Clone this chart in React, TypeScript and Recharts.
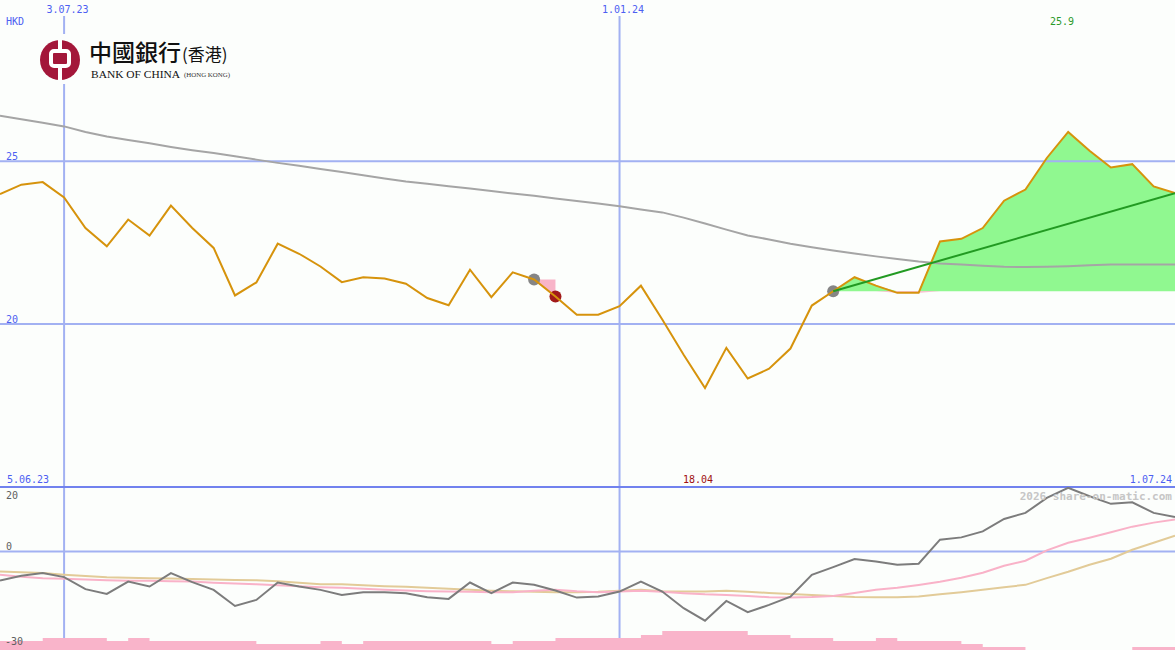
import React from 'react';
import {
  ComposedChart,
  Line,
  Area,
  Scatter,
  XAxis,
  YAxis,
  ReferenceLine,
} from 'recharts';

// weekly closes, HKD (12.06.23 .. 1.07.24)
const price = [
  23.99, 24.28, 24.36, 23.89, 22.95, 22.39, 23.21, 22.72, 23.64, 22.95,
  22.34, 20.88, 21.28, 22.47, 22.16, 21.77, 21.29, 21.44, 21.4, 21.24,
  20.8, 20.58, 21.67, 20.83, 21.59, 21.37, 20.85, 20.29, 20.29, 20.55,
  21.18, 20.14, 19.06, 18.04, 19.27, 18.33, 18.63, 19.25, 20.57, 21.01,
  21.44, 21.18, 20.96, 20.96, 22.54, 22.62, 22.95, 23.79, 24.13, 25.1,
  25.9, 25.32, 24.81, 24.91, 24.23, 24.02,
];

// long moving average
const movingAvg = [
  26.4, 26.29, 26.18, 26.07, 25.9, 25.76, 25.65, 25.55, 25.44, 25.34,
  25.25, 25.15, 25.05, 24.95, 24.86, 24.76, 24.67, 24.57, 24.47, 24.38,
  24.31, 24.23, 24.16, 24.09, 24.01, 23.94, 23.86, 23.78, 23.7, 23.62,
  23.52, 23.43, 23.27, 23.09, 22.9, 22.72, 22.6, 22.47, 22.36, 22.26,
  22.17, 22.08, 22.0, 21.92, 21.86, 21.83, 21.79, 21.76, 21.75, 21.76,
  21.78, 21.81, 21.83, 21.83, 21.83, 21.83,
];

// lower panel: oscillator and its two signal lines
const oscillator = [
  -9.03, -7.57, -6.73, -7.98, -11.71, -13.18, -9.35, -10.9, -6.73, -9.53,
  -11.93, -16.92, -15.05, -9.66, -10.9, -11.93, -13.49, -12.65, -12.65, -12.96,
  -14.21, -14.74, -9.66, -12.96, -9.66, -10.37, -12.15, -14.33, -14.02, -12.46,
  -9.35, -12.46, -17.63, -21.5, -15.36, -18.88, -16.6, -14.02, -7.26, -4.86,
  -2.37, -3.12, -4.14, -3.83, 3.64, 4.36, 6.23, 10.09, 11.96, 16.64,
  19.75, 17.13, 14.77, 15.26, 11.96, 10.72,
];

const fastSignal = [
  -7.26, -7.88, -8.29, -8.5, -8.75, -8.91, -9.07, -9.13, -9.22, -9.35,
  -9.69, -9.97, -10.22, -10.47, -10.84, -11.09, -11.31, -11.62, -11.93, -12.15,
  -12.34, -12.46, -12.55, -12.65, -12.65, -12.24, -11.93, -12.4, -12.65, -12.46,
  -12.18, -12.55, -12.96, -13.33, -13.49, -13.8, -14.21, -14.27, -14.17, -13.8,
  -12.87, -11.93, -11.31, -10.44, -9.44, -8.19, -6.64, -4.45, -2.9, 0.31,
  2.71, 4.27, 5.98, 7.69, 8.94, 9.88,
];

const slowSignal = [
  -6.2, -6.45, -6.73, -7.26, -7.66, -8.04, -8.19, -8.35, -8.44, -8.57,
  -8.72, -8.88, -8.97, -9.28, -9.75, -10.22, -10.22, -10.53, -10.78, -11.0,
  -11.31, -11.62, -11.93, -12.18, -12.4, -12.55, -12.65, -12.65, -12.55, -12.24,
  -11.93, -12.4, -12.46, -12.46, -12.18, -12.55, -12.87, -13.18, -13.49, -13.86,
  -14.17, -14.21, -14.21, -13.96, -13.33, -12.65, -11.93, -11.09, -10.37, -8.29,
  -6.32, -4.14, -2.27, 0.53, 2.71, 4.89,
];

// volume blocks (relative)
const volume = [
  9, 9, 12, 12, 12, 9, 12, 9, 9, 9,
  9, 9, 6, 6, 6, 9, 6, 9, 9, 9,
  9, 9, 9, 6, 9, 9, 12, 12, 12, 12,
  15, 19, 19, 19, 19, 15, 15, 12, 12, 9,
  9, 12, 9, 9, 9, 6, 3, 3, 0, 0,
  0, 0, 0, 3, 3, 3,
];

const buyWeeks = [25, 39];
const sellWeeks = [26];
const closedTrade = [25, 26];
const openTradeStart = 39;
const lastWeek = price.length - 1;

const dateMarks = [
  { week: 3, label: '3.07.23' },
  { week: 29, label: '1.01.24' },
];

const BG = '#fcfefc';
const GRID = '#a2b1f2';
const BORDER = '#7182ee';
const BLUE = '#4d5ff2';
const MONO = '"DejaVu Sans Mono", monospace';

const rows = price.map((p, i) => {
  const row: any = {
    i,
    price: p,
    ma: movingAvg[i],
    osc: oscillator[i],
    fast: fastSignal[i],
    slow: slowSignal[i],
    vol: volume[i],
  };
  if (i >= closedTrade[0] && i <= closedTrade[1]) {
    const base = price[closedTrade[0]];
    row.loss = [Math.min(p, base), base];
  }
  if (i >= openTradeStart) {
    const base = price[openTradeStart];
    row.gain = [base, Math.max(p, base)];
    row.loss = [Math.min(p, base), base];
  }
  if (i === openTradeStart || i === lastWeek) row.trend = p;
  return row;
});

const buys = buyWeeks.map((i) => ({ i, price: price[i] }));
const sells = sellWeeks.map((i) => ({ i, price: price[i] }));

function TickLabel(props: any) {
  const { viewBox, text, dx = 6, dy = 0, color = BLUE, anchor = 'start' } = props;
  if (!viewBox) return null;
  return (
    <text
      x={viewBox.x + dx}
      y={viewBox.y + dy}
      fill={color}
      fontSize={10}
      fontFamily={MONO}
      textAnchor={anchor}
    >
      {text}
    </text>
  );
}

const dot = (color: string) => (p: any) => (
  <circle cx={p.cx} cy={p.cy} r={6} fill={color} />
);

function Logo() {
  return (
    <g>
      <rect x={36} y={34} width={200} height={50} fill={BG} />
      <circle cx={60} cy={60} r={20} fill="#a3173a" />
      <rect x={51} y={51} width={18} height={15} rx={3} fill="#a3173a" stroke="#ffffff" strokeWidth={4} />
      <line x1={60} y1={40} x2={60} y2={50} stroke="#ffffff" strokeWidth={4} />
      <line x1={60} y1={67} x2={60} y2={80} stroke="#ffffff" strokeWidth={4} />
      <text x={89} y={61} fontSize={23} fontWeight={500} fill="#111" fontFamily='"Noto Sans CJK TC", sans-serif'>
        中國銀行
      </text>
      <text x={182} y={61} fontSize={17} fill="#111" fontFamily='"Noto Sans CJK TC", sans-serif'>
        (香港)
      </text>
      <text x={91} y={78.3} fontSize={11} fill="#111" fontFamily='"Liberation Serif", serif' textLength={89} lengthAdjust="spacingAndGlyphs">
        BANK OF CHINA
      </text>
      <text x={184} y={76.5} fontSize={5.5} fill="#333" fontFamily='"Liberation Serif", serif' textLength={46} lengthAdjust="spacingAndGlyphs">
        (HONG KONG)
      </text>
    </g>
  );
}

export default function App() {
  return (
    <div style={{ position: 'absolute', left: 0, top: 0, width: 1175, height: 650, background: BG, overflow: 'hidden' }}>
      <div style={{ position: 'absolute', left: 0, top: 0 }}>
        <ComposedChart width={1175} height={487} data={rows} margin={{ top: 0, right: 0, bottom: 0, left: 0 }}>
          <XAxis dataKey="i" type="number" domain={[0, lastWeek]} hide allowDataOverflow />
          <YAxis type="number" domain={[15, 29.95]} hide allowDataOverflow />
          <ReferenceLine y={25} stroke={GRID} strokeWidth={2} label={<TickLabel text="25" dy={-1.5} />} />
          <ReferenceLine y={20} stroke={GRID} strokeWidth={2} label={<TickLabel text="20" dy={-1.5} />} />
          {dateMarks.map((m) => (
            <ReferenceLine
              key={m.label}
              segment={[{ x: m.week, y: 29.46 }, { x: m.week, y: 15 }]}
              stroke={GRID}
              strokeWidth={2}
              label={<TickLabel text={m.label} dx={3.5} dy={-3.3} anchor="middle" />}
            />
          ))}
          <Area dataKey="gain" stroke="none" fill="#90f890" fillOpacity={1} activeDot={false} isAnimationActive={false} />
          <Area dataKey="loss" stroke="none" fill="#f8b4c8" fillOpacity={1} activeDot={false} isAnimationActive={false} />
          <Line dataKey="ma" stroke="#a5a5a5" strokeWidth={2} dot={false} activeDot={false} isAnimationActive={false} />
          <Scatter data={buys} dataKey="price" shape={dot('#858585')} zIndex={350} isAnimationActive={false} />
          <Scatter data={sells} dataKey="price" shape={dot('#a21a1a')} zIndex={350} isAnimationActive={false} />
          <Line dataKey="price" stroke="#d6930c" strokeWidth={2} dot={false} activeDot={false} isAnimationActive={false} />
          <Line dataKey="trend" stroke="#229a22" strokeWidth={2} dot={false} activeDot={false} connectNulls isAnimationActive={false} />
        </ComposedChart>
      </div>
      <div style={{ position: 'absolute', left: 0, top: 486 }}>
        <ComposedChart width={1175} height={164} data={rows} margin={{ top: 1, right: 0, bottom: 0, left: 0 }}>
          <XAxis dataKey="i" type="number" domain={[0, lastWeek]} hide allowDataOverflow />
          <YAxis yAxisId="osc" type="number" domain={[-30.6, 20]} hide allowDataOverflow />
          <YAxis yAxisId="vol" type="number" domain={[0, 163]} hide allowDataOverflow />
          <ReferenceLine yAxisId="osc" y={0} stroke={GRID} strokeWidth={2} label={<TickLabel text="0" dy={-1.7} color="#606060" />} />
          {dateMarks.map((m) => (
            <ReferenceLine key={m.label} yAxisId="osc" x={m.week} stroke={GRID} strokeWidth={2} />
          ))}
          <ReferenceLine yAxisId="osc" y={20} stroke={BORDER} strokeWidth={2} label={<TickLabel text="20" dy={12} color="#606060" />} />
          <Line yAxisId="osc" dataKey="slow" stroke="#e2cb98" strokeWidth={2} dot={false} activeDot={false} isAnimationActive={false} />
          <Line yAxisId="osc" dataKey="fast" stroke="#f9b2c8" strokeWidth={2} dot={false} activeDot={false} isAnimationActive={false} />
          <Line yAxisId="osc" dataKey="osc" stroke="#7c7c7c" strokeWidth={2} dot={false} activeDot={false} isAnimationActive={false} />
          <Area
            yAxisId="vol"
            type="stepAfter"
            dataKey="vol"
            stroke="none"
            fill="#f9b4ca"
            fillOpacity={1}
            zIndex={450}
            activeDot={false}
            isAnimationActive={false}
          />
        </ComposedChart>
      </div>
      <svg width={1175} height={650} style={{ position: 'absolute', left: 0, top: 0, pointerEvents: 'none' }}>
        <Logo />
        <text x={6} y={25} fill={BLUE} fontSize={10} fontFamily={MONO}>HKD</text>
        <text x={1062} y={25} fill="#2a9a2a" fontSize={10} fontFamily={MONO} textAnchor="middle">25.9</text>
        <text x={7} y={483} fill={BLUE} fontSize={10} fontFamily={MONO}>5.06.23</text>
        <text x={698} y={483} fill="#a01010" fontSize={10} fontFamily={MONO} textAnchor="middle">18.04</text>
        <text x={1172} y={483} fill={BLUE} fontSize={10} fontFamily={MONO} textAnchor="end">1.07.24</text>
        <text x={1172} y={500} fill="#c6c6c6" fontSize={11} fontWeight={700} fontFamily={MONO} textAnchor="end">
          2026 share-on-matic.com
        </text>
        <text x={5} y={645} fill="#606060" fontSize={10} fontFamily={MONO}>-30</text>
      </svg>
    </div>
  );
}
